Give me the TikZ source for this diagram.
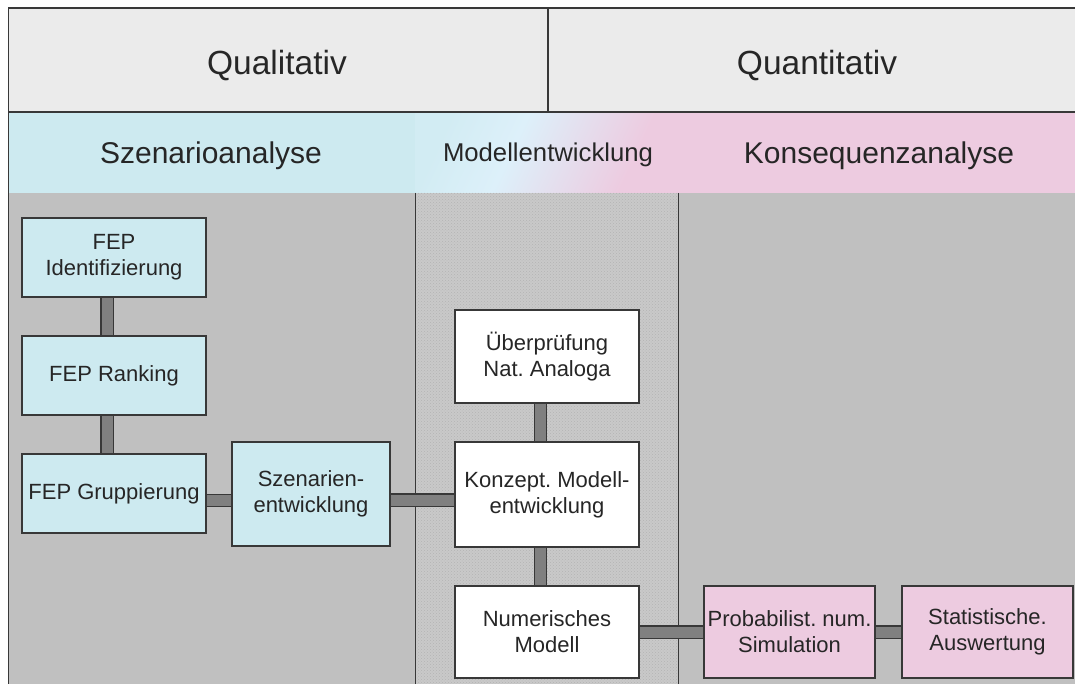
\documentclass[tikz,border=0pt]{standalone}
\usepackage{fontspec}
\setmainfont{Liberation Sans}
\usetikzlibrary{backgrounds,patterns}
\frenchspacing

\definecolor{headgray}{HTML}{EBEBEB}
\definecolor{scenblue}{HTML}{CDEAF0}
\definecolor{gradblue}{HTML}{D2ECF3}
\definecolor{lightblue}{HTML}{DDF0FA}
\definecolor{konspink}{HTML}{EDCBE0}
\definecolor{bodygray}{HTML}{C0C0C0}
\definecolor{midgray}{HTML}{C9C9C9}
\definecolor{dotgray}{HTML}{B4B4B4}
\definecolor{linedark}{HTML}{383838}
\definecolor{connfill}{HTML}{808080}
\definecolor{textdark}{HTML}{262626}

% diagonal blend for the model-development header cell
\pgfdeclarehorizontalshading{modgrad}{100bp}{%
  color(0bp)=(gradblue); color(25bp)=(gradblue); color(42bp)=(lightblue);
  color(70bp)=(konspink); color(100bp)=(konspink)}

\tikzset{
  stepbox/.style={draw=linedark, line width=1.3pt, inner sep=0pt, align=center,
    text=textdark, font=\fontsize{22}{26}\selectfont},
  bluebox/.style={stepbox, fill=scenblue},
  whitebox/.style={stepbox, fill=white},
  pinkbox/.style={stepbox, fill=konspink},
  link/.style={draw=linedark, line width=1.3pt, double=connfill, double distance=11pt},
  frame/.style={draw=linedark, line width=1.7pt},
  thinframe/.style={draw=linedark, line width=1.2pt},
  bigtitle/.style={text=textdark, font=\fontsize{33.5}{38}\selectfont, anchor=base, inner sep=0pt},
  bandtitle/.style={text=textdark, font=\fontsize{30}{34}\selectfont, anchor=base, inner sep=0pt},
}

\begin{document}
\begin{tikzpicture}[x=1pt, y=-1pt]
\useasboundingbox (0,0) rectangle (1075,684);

\begin{scope}[on background layer]
% header row
\fill[headgray] (8,8) rectangle (1075,112);
% phase band
\fill[scenblue] (8,112) rectangle (415,193);
\shade[shading=modgrad, shading angle=-25] (415,112) rectangle (678,193);
\fill[konspink] (678,112) rectangle (1075,193);
% body
\fill[bodygray] (8,193) rectangle (1075,684);
\fill[midgray] (415,193) rectangle (678,684);
\fill[pattern=crosshatch dots, pattern color=dotgray] (415,193) rectangle (678,684);
% column dividers
\draw[thinframe] (415.5,193) -- (415.5,684);
\draw[thinframe] (678.5,193) -- (678.5,684);
\end{scope}

% frame lines
\draw[frame] (8,8) -- (1075,8);
\draw[frame] (8,112) -- (1075,112);
\draw[frame] (8.5,7.2) -- (8.5,684);
\draw[thinframe] (548,8) -- (548,112);

% titles
\node[bigtitle] (qual) at (277,75) {Qualitativ};
\node[bigtitle] (quant) at (817,75) {Quantitativ};
\node[bandtitle] (szana) at (211,164) {Szenarioanalyse};
\node[bandtitle, font=\fontsize{25.7}{30}\selectfont] (modent) at (548,162) {Modellentwicklung};
\node[bandtitle] (konana) at (879,164) {Konsequenzanalyse};

% scenario analysis steps
\node[bluebox, minimum width=184pt, minimum height=79pt] (fepid) at (114,257.5) {FEP\\Identifizierung};
\node[bluebox, minimum width=184pt, minimum height=79pt] (fepr) at (114,375.5) {FEP Ranking};
\node[bluebox, minimum width=184pt, minimum height=79pt] (fepg) at (114,493.5) {FEP Gruppierung};
\node[bluebox, minimum width=158pt, minimum height=104pt] (szen) at (311,494) {Szenarien-\\entwicklung};

% model development steps
\node[whitebox, minimum width=184pt, minimum height=93pt] (ueber) at (547,356.5) {Überprüfung\\Nat. Analoga};
\node[whitebox, minimum width=184pt, minimum height=105pt] (konz) at (547,494.5) {Konzept. Modell-\\entwicklung};
\node[whitebox, minimum width=184pt, minimum height=92pt] (num) at (547,632) {Numerisches\\Modell};

% consequence analysis steps
\node[pinkbox, minimum width=171pt, minimum height=92pt] (prob) at (789.5,632) {Probabilist. num.\\Simulation};
\node[pinkbox, minimum width=171pt, minimum height=92pt] (stat) at (987.5,632) {Statistische.\\Auswertung};

% connecting bars, above the regions and behind the boxes
\begin{scope}[on background layer]
\draw[link] ([xshift=-7pt]fepid.south) -- ([xshift=-7pt]fepr.north);
\draw[link] ([xshift=-7pt]fepr.south) -- ([xshift=-7pt]fepg.north);
\draw[link] ([yshift=-7pt]fepg.east) -- ([yshift=-7pt]fepg.east -| szen.west);
\draw[link] ([yshift=-6pt]szen.east) -- ([yshift=-6pt]szen.east -| konz.west);
\draw[link] ([xshift=-6.5pt]ueber.south) -- ([xshift=-6.5pt]konz.north);
\draw[link] ([xshift=-6.5pt]konz.south) -- ([xshift=-6.5pt]num.north);
\draw[link] (num.east) -- (prob.west);
\draw[link] (prob.east) -- (stat.west);
\end{scope}
\end{tikzpicture}
\end{document}
